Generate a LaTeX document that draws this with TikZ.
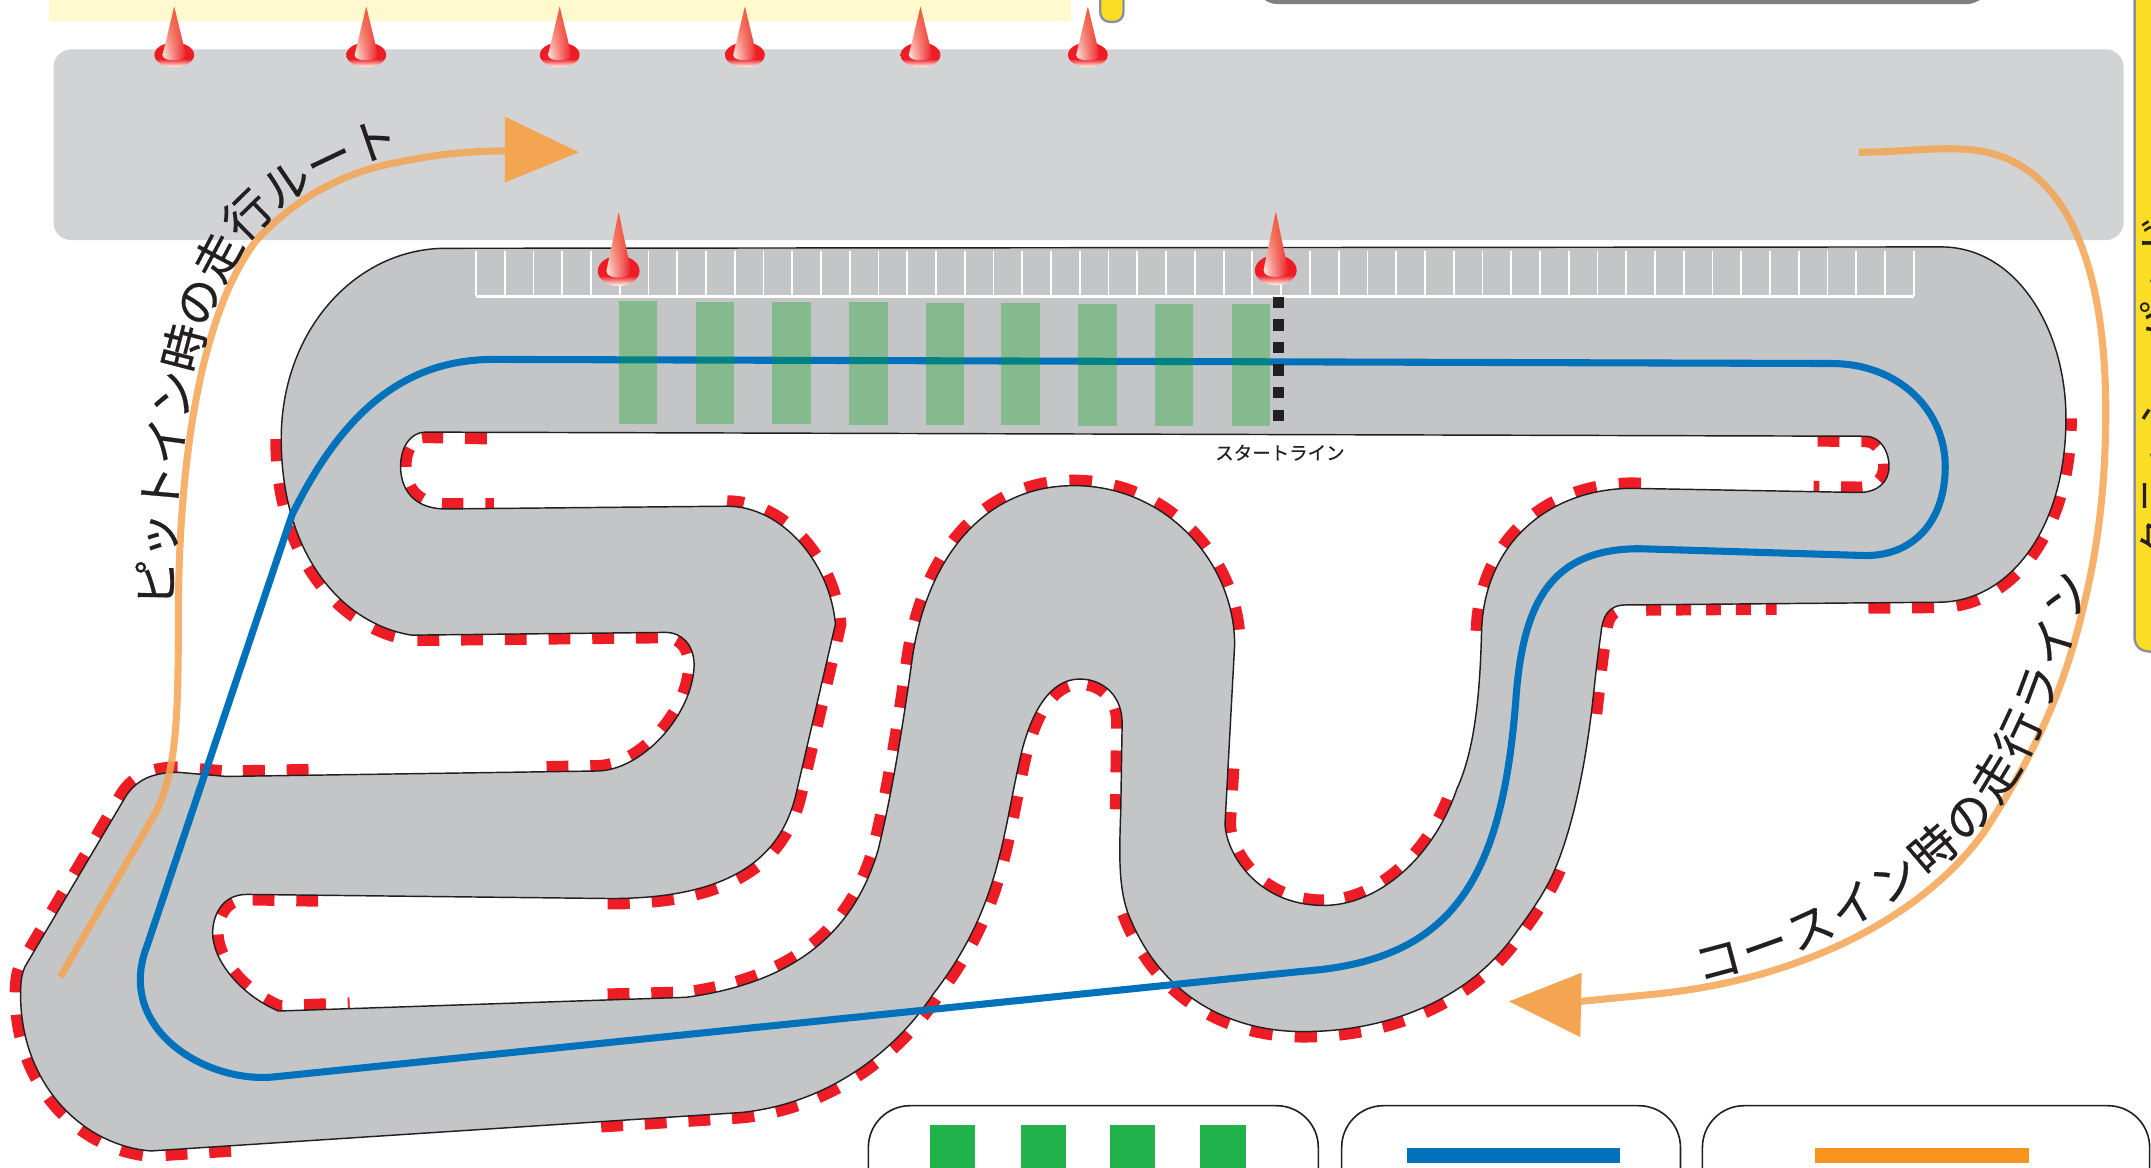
\documentclass[tikz,border=0pt]{standalone}
\usepackage{fontspec}
\usetikzlibrary{decorations.text,fadings}
\newfontfamily\jpfont{Noto Sans CJK JP}
\newfontfamily\jpbold[FakeBold=0.5]{Noto Sans CJK JP}

\definecolor{apron}{HTML}{D1D3D4}
\definecolor{asphalt}{HTML}{C4C5C7}
\definecolor{kerb}{HTML}{EE1C25}
\definecolor{racing}{HTML}{0072BC}
\definecolor{grid}{HTML}{00A514}
\definecolor{legendgreen}{HTML}{22B24C}
\definecolor{legendorange}{HTML}{F7941E}
\definecolor{route}{HTML}{F4A552}
\definecolor{pale}{HTML}{FFFACD}
\definecolor{pad}{HTML}{FBDD23}
\definecolor{padrim}{HTML}{8A8F9C}
\definecolor{conepale}{HTML}{FDE6DA}
\definecolor{coneorange}{HTML}{F15A3C}
\definecolor{inkblack}{HTML}{231F20}

\pgfdeclareverticalshading{conebase}{100bp}{color(0bp)=(conepale); color(27bp)=(conepale); color(42bp)=(kerb); color(100bp)=(kerb)}

\tikzset{
    kerbline/.style={draw=kerb, line width=13.6pt, dash pattern=on 13.6pt off 13.6pt},
    routeline/.style={draw=route, line width=4.4pt},
    routetext/.style={decorate, decoration={text along path, text align={fit to path},
        text={|\jpbold\fontsize{29}{29}\selectfont\color{inkblack}|#1}}},
    legendbox/.style={draw=inkblack, fill=white, line width=1pt, rounded corners=26pt},
    pylon/.pic={
        \shade[shading=conebase] (0,0) ellipse [x radius=14.5, y radius=9];
        \shade[left color=conepale, right color=kerb] (0,-35) -- (-8.5,0) .. controls (-8.5,3) and (-4,4) .. (0,4)
            .. controls (4,4) and (8.5,3) .. (8.5,0) -- cycle;
        \fill[coneorange, path fading=south] (0,-35) -- (-8.5,0) -- (8.5,0) -- cycle;
    }
}

\begin{document}
\begin{tikzpicture}[x=0.03cm, y=-0.03cm]
    \useasboundingbox (0,0) rectangle (1568,851.4);

    % top of the sheet
    \fill[pale] (36,-5) rectangle (781,15);
    \draw[fill=pad, draw=padrim, line width=1.5pt, rounded corners=6pt] (802,-20) rectangle (819,16);
    \fill[black!50, rounded corners=14pt] (915,-40) rectangle (1450,3);
    \fill[apron, rounded corners=11pt] (39,36) rectangle (1548,175);

    % crash pad
    \draw[fill=pad, draw=padrim, line width=1.5pt] (1556,-10) -- (1556,464)
        .. controls (1556,471) and (1560,475) .. (1568,475) -- (1580,475) -- (1580,-10) -- cycle;
    \node[rotate=90, font=\jpfont\fontsize{27}{27}\selectfont, inkblack] (padlabel) at (1574,283) {クラッシュパッド};

    % kerbs, half of each stroke is hidden by the track
    \draw[kerbline] (355,316) -- (310,315) .. controls (300,315) and (292,325) .. (292,340)
        .. controls (292,355) and (300,371) .. (325,371) -- (360,371);
    \draw[kerbline] (1325,317.6) -- (1360,318) .. controls (1370,318) and (1377,328) .. (1377,340)
        .. controls (1377,352) and (1368,359) .. (1355,359) -- (1322,358.4);
    \draw[kerbline] (205,320) .. controls (205,405) and (250,455) .. (300,463) -- (485,461)
        .. controls (497,461) and (506,470) .. (506,485) .. controls (505,520) and (470,560) .. (437,562) -- (388,563);
    \draw[kerbline] (225,564.8) -- (165,566) -- (130,563) .. controls (112,563) and (100,568) .. (92,580)
        -- (18,705) .. controls (16,710) and (15,715) .. (15,725) .. controls (15,790) and (60,835) .. (110,839) -- (175,834.8);
    \draw[kerbline] (438,817.6) -- (540,811) .. controls (600,805) and (650,770) .. (680,725)
        .. controls (730,660) and (730,610) .. (745,547) .. controls (752,520) and (765,495) .. (787,495)
        .. controls (805,495) and (818,508) .. (818,527) -- (817,590);
    \draw[kerbline] (822,665) .. controls (845,725) and (895,752) .. (950,752)
        .. controls (1010,752) and (1070,730) .. (1105,680) .. controls (1118,662) and (1128,648) .. (1135,630);
    \draw[kerbline] (1160,520) .. controls (1163,495) and (1163,490) .. (1167,462)
        .. controls (1168,450) and (1172,441) .. (1185,441);
    \draw[kerbline, dash pattern=on 9.3pt off 9.3pt] (1200,440.9) -- (1295,440.2);
    \draw[kerbline] (1362,439.4) -- (1413,439) .. controls (1465,439) and (1506,385) .. (1506,305);
    \draw[kerbline] (232,653) -- (180,652) .. controls (160,652) and (155,670) .. (155,680)
        .. controls (155,700) and (175,725) .. (203,737) -- (255,735);
    \draw[kerbline] (443,655) -- (445,655) .. controls (540,655) and (570,620) .. (580,580) -- (609,455)
        .. controls (605,410) and (570,369) .. (530,369);
    \draw[kerbline] (443,728.5) -- (500,727) .. controls (590,715) and (625,670) .. (640,620)
        .. controls (650,580) and (658,530) .. (665,480) .. controls (675,410) and (715,354) .. (783,354)
        .. controls (850,354) and (900,410) .. (900,470);
    \draw[kerbline] (895.5,560) -- (893,600) .. controls (893,620) and (915,660) .. (965,660)
        .. controls (1005,660) and (1045,625) .. (1062,575);
    \draw[kerbline] (1080,460) .. controls (1082,395) and (1130,356) .. (1190,356) -- (1200,356.2);

    % track
    \draw[fill=asphalt, draw=inkblack, line width=0.9pt, even odd rule]
        (325,181) -- (1415,180) .. controls (1470,180) and (1506,240) .. (1506,305)
        .. controls (1506,385) and (1465,439) .. (1413,439) -- (1185,441)
        .. controls (1172,441) and (1168,450) .. (1167,462) .. controls (1163,490) and (1163,495) .. (1160,520)
        .. controls (1155,560) and (1147,600) .. (1135,630) .. controls (1128,648) and (1118,662) .. (1105,680)
        .. controls (1070,730) and (1010,752) .. (950,752) .. controls (895,752) and (845,725) .. (822,665)
        .. controls (815,645) and (816,620) .. (817,590) -- (818,527)
        .. controls (818,508) and (805,495) .. (787,495) .. controls (765,495) and (752,520) .. (745,547)
        .. controls (730,610) and (730,660) .. (680,725) .. controls (650,770) and (600,805) .. (540,811)
        -- (110,839) .. controls (60,835) and (15,790) .. (15,725) .. controls (15,715) and (16,710) .. (18,705)
        -- (92,580) .. controls (100,568) and (112,563) .. (130,563) -- (165,566) -- (437,562)
        .. controls (470,560) and (505,520) .. (506,485) .. controls (506,470) and (497,461) .. (485,461)
        -- (300,463) .. controls (250,455) and (205,405) .. (205,320)
        .. controls (205,240) and (260,181) .. (325,181) -- cycle
        (310,315) -- (1360,318) .. controls (1370,318) and (1377,328) .. (1377,340)
        .. controls (1377,352) and (1368,359) .. (1355,359) -- (1190,356)
        .. controls (1130,356) and (1082,395) .. (1080,460) .. controls (1079,500) and (1076,545) .. (1062,575)
        .. controls (1045,625) and (1005,660) .. (965,660) .. controls (915,660) and (893,620) .. (893,600)
        -- (900,470) .. controls (900,410) and (850,354) .. (783,354) .. controls (715,354) and (675,410) .. (665,480)
        .. controls (658,530) and (650,580) .. (640,620) .. controls (625,670) and (590,715) .. (500,727)
        -- (203,737) .. controls (175,725) and (155,700) .. (155,680) .. controls (155,670) and (160,652) .. (180,652)
        -- (445,655) .. controls (540,655) and (570,620) .. (580,580) -- (609,455)
        .. controls (605,410) and (570,369) .. (530,369) -- (325,371)
        .. controls (300,371) and (292,355) .. (292,340) .. controls (292,325) and (300,315) .. (310,315) -- cycle;

    % pit boxes
    \foreach \i in {0,...,50}
        \draw[white, line width=1.1pt] ({347+\i*20.96},183) -- ({347+\i*20.96},216);
    \draw[white, line width=1.5pt] (347,216) -- (1395,216);

    % racing line
    \draw[racing, line width=4.4pt] (360,262) -- (1335,265)
        .. controls (1385,265) and (1418,300) .. (1418,340) .. controls (1418,380) and (1395,405) .. (1360,405)
        -- (1195,400) .. controls (1130,400) and (1110,440) .. (1105,510)
        .. controls (1095,640) and (1060,700) .. (950,708) -- (200,785)
        .. controls (150,790) and (84,750) .. (107,690) -- (213,375)
        .. controls (250,300) and (295,262) .. (360,262) -- cycle;

    % grid slots
    \foreach \x [count=\i] in {451,507,563,619,675,730,786,842,898}
        \fill[grid, opacity=0.32] (\x,{219.5+\i*0.25}) rectangle ++(28,89);

    % start line
    \draw[inkblack, line width=7pt, dash pattern=on 7.05pt off 7pt] (932,216.3) -- (932,309);
    \node[font=\jpbold\fontsize{11.5}{12}\selectfont, inkblack] (startlabel) at (933,330) {スタートライン};

    % driving routes
    \draw[routeline, opacity=0.85] (44,712) -- (112,595) .. controls (128,565) and (130,530) .. (130,452)
        .. controls (130,340) and (145,230) .. (187,175) .. controls (215,145) and (250,125) .. (292,118)
        .. controls (320,112) and (345,110) .. (370,110);
    \fill[route] (368,85) -- (422,111) -- (368,133) -- cycle;
    \draw[routeline, opacity=0.85] (1355,111) .. controls (1385,111) and (1410,107) .. (1435,109)
        .. controls (1510,115) and (1535,200) .. (1535,300) .. controls (1535,350) and (1530,395) .. (1520,437)
        .. controls (1508,490) and (1490,540) .. (1446,607) .. controls (1400,670) and (1310,715) .. (1203,725)
        -- (1152,730);
    \fill[route] (1100,730) -- (1153,709) -- (1152,756) -- cycle;
    \path[routetext={ピットイン時の走行ルート}] (126,442) .. controls (126,340) and (141,228) .. (183,172) .. controls (208,145) and (240,126) .. (284,112);
    \path[routetext={コースイン時の走行ライン}] (1239,716) .. controls (1310,700) and (1385,665) .. (1444,603) .. controls (1480,560) and (1505,495) .. (1522,420);

    % pylons
    \foreach \x in {127,267,408,543,671,793}
        \pic at (\x,40) {pylon};
    \pic[xscale=1.05, yscale=1.22] at (451,197.5) {pylon};
    \pic[xscale=1.05, yscale=1.22] at (930,197) {pylon};

    % legend
    \draw[legendbox] (633,880) -- (633,806) -- (961,806) -- (961,880);
    \draw[legendbox] (978,880) -- (978,806) -- (1225,806) -- (1225,880);
    \draw[legendbox] (1241,880) -- (1241,806) -- (1567,806) -- (1567,880);
    \foreach \x in {678,744,809,875}
        \fill[legendgreen] (\x,820) rectangle ++(33,40);
    \fill[racing] (1026,837) rectangle (1181,848);
    \fill[legendorange] (1323,837) rectangle (1479,848);
\end{tikzpicture}
\end{document}
